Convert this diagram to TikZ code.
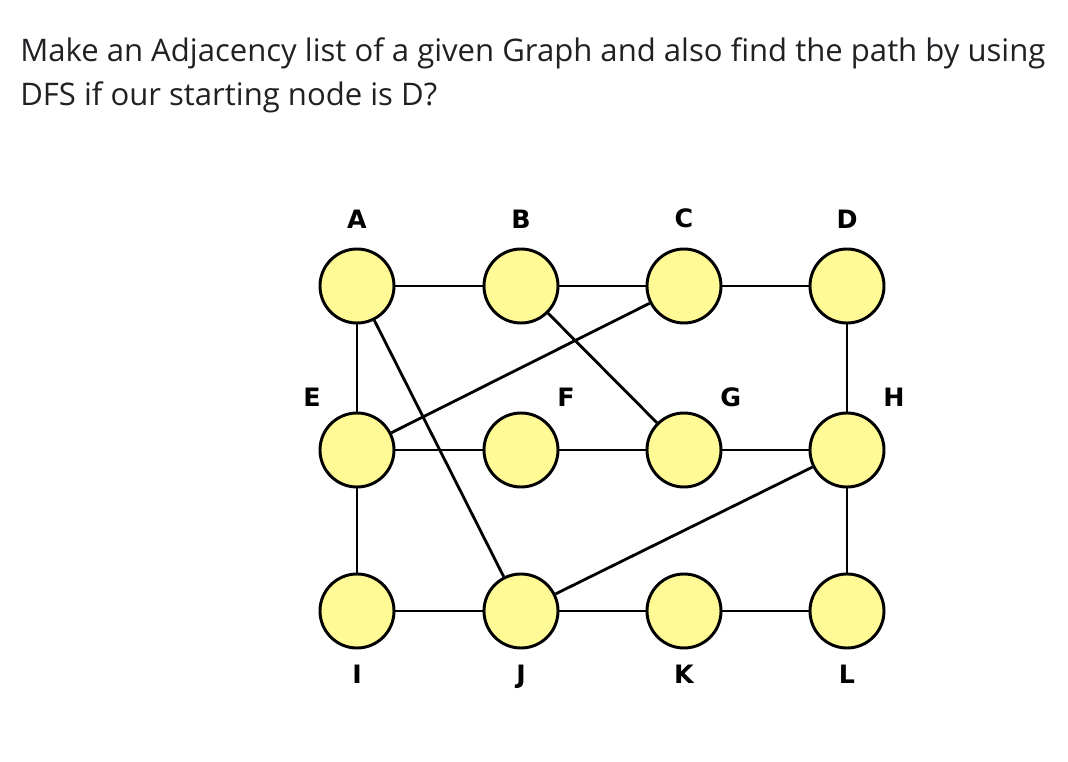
\documentclass[tikz,border=0pt]{standalone}
\usepackage{fontspec}
\setmainfont{Open Sans}
\newfontfamily\labelfont{DejaVu Sans}

\definecolor{vertexfill}{RGB}{255,250,150}
\definecolor{titlegray}{RGB}{32,33,36}

\tikzstyle{vertex} = [circle, draw, fill=vertexfill, line width=2.1pt, minimum size=1.85cm, inner sep=0pt]
\tikzstyle{edge} = [line width=2pt]
\tikzstyle{lbl} = [font=\labelfont\bfseries\fontsize{18}{18}\selectfont, inner sep=0pt]
\tikzstyle{question} = [anchor=base west, inner sep=0pt, text=titlegray, font=\fontsize{22.1}{26}\selectfont]

\begin{document}
\begin{tikzpicture}[x=0.025cm, y=-0.025cm, every label/.style={lbl}]
\useasboundingbox (0,0) rectangle (1068,762);

% question text
\node[question] (q1) at (20,62) {Make an Adjacency list of a given Graph and also find the path by using};
\node[question] (q2) at (20,106) {DFS if our starting node is D?};

% top row
\node[vertex, label={[label distance=0.48cm]above:A}] (A) at (357,286) {};
\node[vertex, label={[label distance=0.48cm]above:B}] (B) at (521,286) {};
\node[vertex, label={[label distance=0.48cm]above:C}] (C) at (684,286) {};
\node[vertex, label={[label distance=0.48cm]above:D}] (D) at (847,286) {};

% middle row
\node[vertex, label={[label distance=0.44cm]130:E}] (E) at (357,450) {};
\node[vertex, label={[label distance=0.44cm]50:F}] (F) at (521,450) {};
\node[vertex, label={[label distance=0.44cm]50:G}] (G) at (684,450) {};
\node[vertex, label={[label distance=0.44cm]50:H}] (H) at (847,450) {};

% bottom row
\node[vertex, label={[label distance=0.38cm]below:I}] (I) at (357,611) {};
\node[vertex, label={[label distance=0.38cm]below:J}] (J) at (521,611) {};
\node[vertex, label={[label distance=0.38cm]below:K}] (K) at (684,611) {};
\node[vertex, label={[label distance=0.38cm]below:L}] (L) at (847,611) {};

% edges
\draw[edge] (A) -- (B) (B) -- (C) (C) -- (D);
\draw[edge] (E) -- (F) (F) -- (G) (G) -- (H);
\draw[edge] (I) -- (J) (J) -- (K) (K) -- (L);
\draw[edge] (A) -- (E) (E) -- (I) (D) -- (H) (H) -- (L);
\draw[edge] (A) -- (J) (E) -- (C) (B) -- (G) (J) -- (H);
\end{tikzpicture}
\end{document}
